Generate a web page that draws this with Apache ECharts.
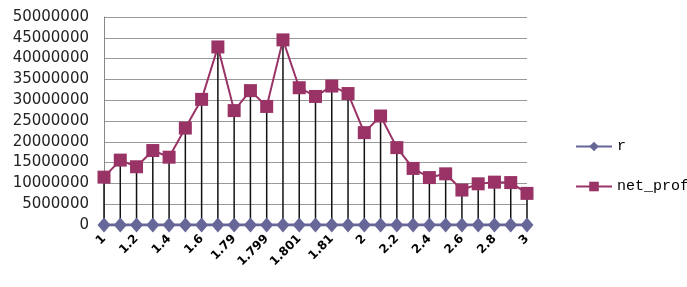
<!DOCTYPE html>
<html>
<head>
<meta charset="utf-8">
<script src="https://cdn.jsdelivr.net/npm/echarts@6/dist/echarts.min.js"></script>
<style>
  html, body { margin: 0; padding: 0; background: #fff; }
  #chart { width: 687px; height: 287px; }
</style>
</head>
<body>
<div id="chart"></div>
<script>
  // x categories (only every other one is labelled in the picture)
  var categories = ['1', '1.1', '1.2', '1.3', '1.4', '1.5', '1.6', '1.7', '1.79', '1.795',
    '1.799', '1.8', '1.801', '1.805', '1.81', '1.9', '2', '2.1', '2.2', '2.3',
    '2.4', '2.5', '2.6', '2.7', '2.8', '2.9', '3'];
  var rValues = [0, 0, 0, 0, 0, 0, 0, 0, 0, 0, 0, 0, 0, 0, 0, 0, 0, 0, 0, 0, 0, 0, 0, 0, 0, 0, 0];
  var netProf = [11500000, 15600000, 14000000, 17900000, 16300000, 23300000, 30200000, 42800000,
    27500000, 32300000, 28500000, 44500000, 33000000, 30900000, 33400000, 31600000,
    22200000, 26200000, 18600000, 13600000, 11400000, 12300000, 8400000, 9900000,
    10300000, 10200000, 7600000];
  var yTicks = { min: 0, max: 50000000, interval: 5000000 };

  var chart = echarts.init(document.getElementById('chart'));
  chart.setOption({
    animation: false,
    backgroundColor: '#fff',
    grid: { left: 104, right: 160, top: 17, bottom: 62 },
    legend: {
      orient: 'vertical',
      left: 570,
      top: 134,
      itemGap: 25,
      itemWidth: 36,
      itemHeight: 12,
      data: ['r', 'net_prof'],
      textStyle: { fontFamily: 'Liberation Mono', fontSize: 15, color: '#000' }
    },
    xAxis: {
      type: 'category',
      boundaryGap: false,
      data: categories,
      axisLine: { show: true, lineStyle: { color: '#888' } },
      axisTick: { show: false },
      axisLabel: {
        interval: 1,
        rotate: 45,
        margin: 12,
        color: '#000',
        fontFamily: 'DejaVu Sans',
        fontWeight: 'bold',
        fontSize: 12
      }
    },
    yAxis: {
      type: 'value',
      min: yTicks.min,
      max: yTicks.max,
      interval: yTicks.interval,
      axisLine: { show: true, lineStyle: { color: '#888' } },
      axisTick: { show: false },
      splitLine: { lineStyle: { color: '#999', width: 1 } },
      axisLabel: {
        margin: 15,
        color: '#222',
        fontFamily: 'DejaVu Sans',
        fontSize: 15,
        formatter: function (v) { return String(v); }
      }
    },
    series: [
      {
        name: 'drop',
        type: 'bar',
        data: netProf,
        barWidth: 1.5,
        itemStyle: { color: '#111' },
        z: 1,
        silent: true
      },
      {
        name: 'net_prof',
        type: 'line',
        data: netProf,
        symbol: 'rect',
        symbolSize: 13,
        showAllSymbol: true,
        lineStyle: { color: '#993366', width: 2 },
        itemStyle: { color: '#993366' },
        z: 3
      },
      {
        name: 'r',
        type: 'line',
        data: rValues,
        symbol: 'diamond',
        symbolSize: [13, 15],
        showAllSymbol: true,
        lineStyle: { color: '#666699', width: 3 },
        itemStyle: { color: '#666699' },
        z: 4
      }
    ]
  });
</script>
</body>
</html>
